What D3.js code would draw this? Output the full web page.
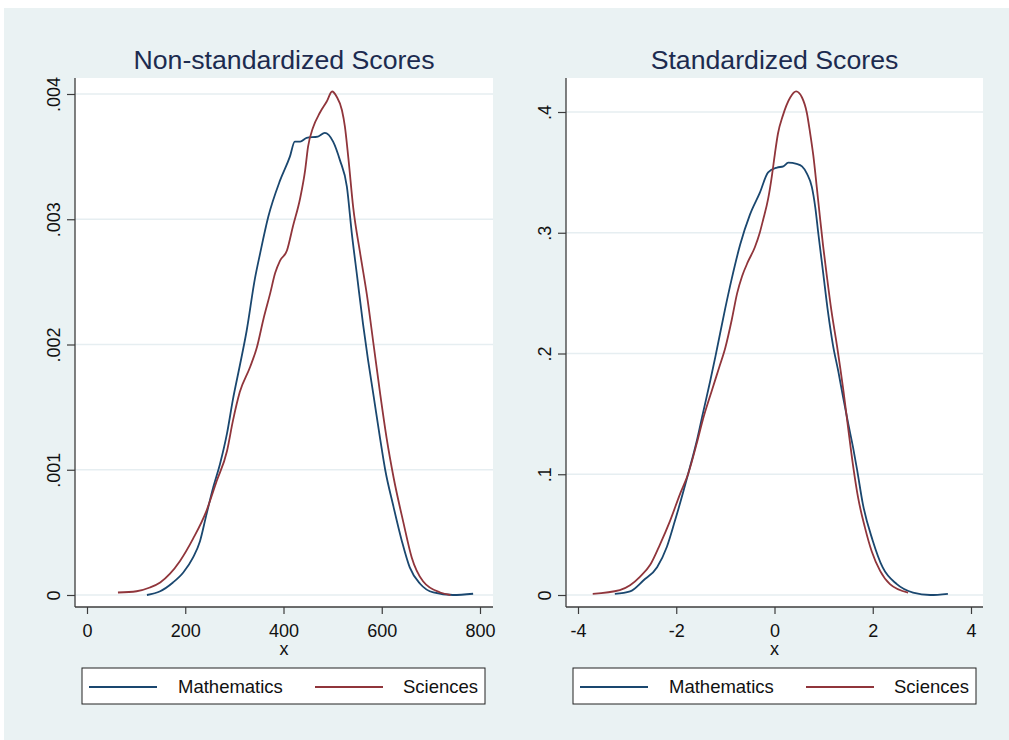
<!DOCTYPE html>
<html>
<head>
<meta charset="utf-8">
<script src="https://cdn.jsdelivr.net/npm/d3@7"></script>
<style>
html,body{margin:0;padding:0;background:#fff;}
svg{display:block;font-family:"Liberation Sans",Arial,sans-serif;}
</style>
</head>
<body>
<svg id="chart" width="1009" height="740"></svg>
<script>
// ---------- data ----------
const seriesNames = ["Mathematics", "Sciences"];
const panelTitles = ["Non-standardized Scores", "Standardized Scores"];
const xLabel = "x";

const rawXTicks = [0, 200, 400, 600, 800];
const rawXTickLabels = ["0", "200", "400", "600", "800"];
const rawYTicks = [0, 0.001, 0.002, 0.003, 0.004];
const rawYTickLabels = ["0", ".001", ".002", ".003", ".004"];
const stdXTicks = [-4, -2, 0, 2, 4];
const stdXTickLabels = ["-4", "-2", "0", "2", "4"];
const stdYTicks = [0, 0.1, 0.2, 0.3, 0.4];
const stdYTickLabels = ["0", ".1", ".2", ".3", ".4"];

// Non-standardized Mathematics
const mathRawX = [122,149,175,196,216,230,243,257,271,285,297,311,325,342,352,369,393,413,423,434,447,470,484,501,515,529,539,550,562,572,583,597,607,623,641,657,678,705,745,786];
const mathRawY = [0,0.00003,0.0001,0.00018,0.0003,0.00043,0.00064,0.00086,0.00105,0.00129,0.00156,0.00183,0.00211,0.00253,0.00272,0.00302,0.00331,0.0035,0.00362,0.00362,0.00365,0.00366,0.00369,0.00362,0.00347,0.00326,0.00289,0.00254,0.00216,0.00188,0.0016,0.00124,0.001,0.00072,0.00043,0.00022,0.00009,0.00002,0,0.00001];
// Non-standardized Sciences
const sciRawX = [63,101,128,149,169,189,216,243,264,285,297,311,332,346,359,373,383,393,407,419,434,444,450,460,474,488,499,508,519,525,532,542,556,570,583,597,610,624,644,661,684,719,740];
const sciRawY = [0.00002,0.00003,0.00006,0.0001,0.00017,0.00027,0.00045,0.00067,0.00091,0.00115,0.00139,0.00162,0.00182,0.00198,0.0022,0.00241,0.00257,0.00267,0.00275,0.00294,0.00317,0.00339,0.00358,0.00373,0.00385,0.00394,0.00402,0.00398,0.00387,0.00374,0.00349,0.00309,0.00273,0.00239,0.00201,0.0016,0.00125,0.00094,0.00058,0.0003,0.00011,0.00002,0];
// Standardized Mathematics
const mathStdX = [-3.25,-2.94,-2.67,-2.39,-2.19,-2.03,-1.86,-1.76,-1.58,-1.46,-1.31,-1.2,-1.0,-0.87,-0.7,-0.5,-0.3,-0.13,0.05,0.18,0.28,0.45,0.56,0.66,0.76,0.83,0.89,0.99,1.09,1.19,1.3,1.4,1.5,1.6,1.68,1.8,2.0,2.2,2.49,2.82,3.17,3.53];
const mathStdY = [0.001,0.003,0.012,0.023,0.04,0.061,0.085,0.1,0.128,0.15,0.177,0.198,0.238,0.262,0.29,0.315,0.333,0.35,0.354,0.355,0.358,0.357,0.355,0.349,0.338,0.321,0.3,0.267,0.234,0.207,0.185,0.163,0.142,0.122,0.104,0.075,0.045,0.023,0.009,0.002,0,0.001];
// Standardized Sciences
const sciStdX = [-3.7,-3.15,-2.94,-2.74,-2.53,-2.33,-2.13,-1.92,-1.76,-1.58,-1.46,-1.27,-1.13,-1.0,-0.87,-0.76,-0.66,-0.54,-0.4,-0.3,-0.23,-0.13,-0.05,0.01,0.07,0.17,0.32,0.44,0.56,0.66,0.72,0.79,0.86,0.93,0.99,1.06,1.16,1.27,1.4,1.5,1.6,1.7,1.84,1.98,2.15,2.35,2.72];
const sciStdY = [0.001,0.004,0.008,0.015,0.025,0.042,0.061,0.084,0.1,0.126,0.145,0.17,0.188,0.205,0.228,0.25,0.264,0.276,0.288,0.3,0.311,0.328,0.348,0.366,0.382,0.397,0.412,0.417,0.412,0.399,0.384,0.364,0.338,0.311,0.289,0.266,0.235,0.207,0.17,0.138,0.107,0.081,0.056,0.036,0.02,0.009,0.002];

// ---------- style ----------
const colors = ["#1a476f", "#90353b"];
const bgColor = "#eaf2f3";
const gridColor = "#e6eef1";
const axisColor = "#3c3c3c";
const titleColor = "#1c2b4f";

const svg = d3.select("#chart");
svg.append("rect").attr("x", 4).attr("y", 8).attr("width", 1005).attr("height", 732).attr("fill", bgColor);

const panels = [
  {
    plot: {x0: 75, x1: 493, y0: 78, y1: 607},
    xDomain: [0, 800], xRange: [87, 480],
    yDomain: [0, 0.004], yRange: [595, 94],
    xTicks: rawXTicks, xLabels: rawXTickLabels, yTicks: rawYTicks, yLabels: rawYTickLabels,
    series: [[mathRawX, mathRawY], [sciRawX, sciRawY]],
    title: panelTitles[0],
    legendX: 82
  },
  {
    plot: {x0: 566, x1: 983, y0: 78, y1: 607},
    xDomain: [-4, 4], xRange: [578, 971],
    yDomain: [0, 0.4], yRange: [595, 112],
    xTicks: stdXTicks, xLabels: stdXTickLabels, yTicks: stdYTicks, yLabels: stdYTickLabels,
    series: [[mathStdX, mathStdY], [sciStdX, sciStdY]],
    title: panelTitles[1],
    legendX: 573
  }
];

panels.forEach(p => {
  const g = svg.append("g");
  const x = d3.scaleLinear().domain(p.xDomain).range(p.xRange);
  const y = d3.scaleLinear().domain(p.yDomain).range(p.yRange);
  const P = p.plot;

  // plot region
  g.append("rect").attr("x", P.x0).attr("y", P.y0).attr("width", P.x1 - P.x0).attr("height", P.y1 - P.y0).attr("fill", "#fff");

  // gridlines
  g.selectAll(".grid").data(p.yTicks).enter().append("line")
    .attr("x1", P.x0).attr("x2", P.x1)
    .attr("y1", d => y(d)).attr("y2", d => y(d))
    .attr("stroke", gridColor).attr("stroke-width", 1.6);

  // title
  g.append("text").attr("x", (P.x0 + P.x1) / 2).attr("y", 69)
    .attr("text-anchor", "middle").attr("font-size", "26.7px").attr("fill", titleColor)
    .text(p.title);

  // curves
  const line = d3.line().x(d => x(d[0])).y(d => y(d[1])).curve(d3.curveMonotoneX);
  p.series.forEach((s, i) => {
    const pts = s[0].map((v, k) => [v, s[1][k]]);
    g.append("path").datum(pts).attr("d", line)
      .attr("fill", "none").attr("stroke", colors[i]).attr("stroke-width", 1.8)
      .attr("stroke-linejoin", "round");
  });

  // x axis
  const xAxis = d3.axisBottom(x).tickValues(p.xTicks).tickSize(7).tickPadding(10).tickFormat((d, i) => p.xLabels[i]);
  const gx = g.append("g").attr("transform", `translate(0,${P.y1})`).call(xAxis);
  gx.select(".domain").remove();
  gx.selectAll(".tick line").attr("stroke", axisColor).attr("stroke-width", 1.2);
  gx.selectAll(".tick text").attr("font-size", "18px").attr("fill", "#111").attr("font-family", "Liberation Sans, Arial, sans-serif");
  g.append("line").attr("x1", P.x0).attr("x2", P.x1).attr("y1", P.y1).attr("y2", P.y1)
    .attr("stroke", axisColor).attr("stroke-width", 1.3);

  // y axis
  const yAxis = d3.axisLeft(y).tickValues(p.yTicks).tickSize(8).tickFormat((d, i) => p.yLabels[i]);
  const gy = g.append("g").attr("transform", `translate(${P.x0},0)`).call(yAxis);
  gy.select(".domain").remove();
  gy.selectAll(".tick line").attr("stroke", axisColor).attr("stroke-width", 1.2);
  gy.selectAll(".tick text")
    .attr("transform", "rotate(-90)")
    .attr("x", 0).attr("y", -15).attr("dy", null).attr("dx", null)
    .attr("text-anchor", "middle")
    .attr("font-size", "18px").attr("fill", "#111").attr("font-family", "Liberation Sans, Arial, sans-serif");
  g.append("line").attr("x1", P.x0).attr("x2", P.x0).attr("y1", P.y0).attr("y2", P.y1)
    .attr("stroke", axisColor).attr("stroke-width", 1.3);

  // x label
  g.append("text").attr("x", (P.x0 + P.x1) / 2).attr("y", 655)
    .attr("text-anchor", "middle").attr("font-size", "18px").attr("fill", "#111").text(xLabel);

  // legend
  const L = g.append("g").attr("transform", `translate(${p.legendX},668)`);
  L.append("rect").attr("x", 0).attr("y", 0).attr("width", 403).attr("height", 36)
    .attr("fill", "#fff").attr("stroke", "#222").attr("stroke-width", 1);
  const lineOff = [7, 233], textOff = [96, 321];
  seriesNames.forEach((n, i) => {
    L.append("line").attr("x1", lineOff[i]).attr("x2", lineOff[i] + 68).attr("y1", 19).attr("y2", 19)
      .attr("stroke", colors[i]).attr("stroke-width", 1.8);
    L.append("text").attr("x", textOff[i]).attr("y", 25).attr("font-size", "18.5px").attr("fill", "#111").text(n);
  });
});
</script>
</body>
</html>
